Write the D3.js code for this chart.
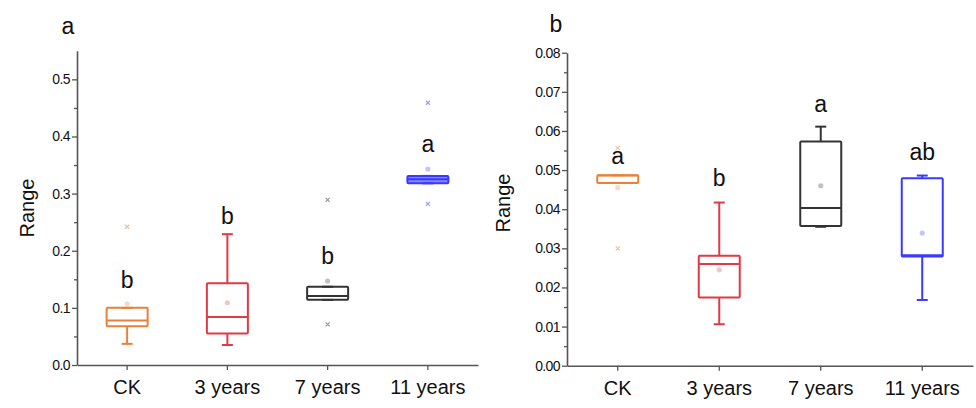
<!DOCTYPE html>
<html lang="en">
<head>
<meta charset="utf-8">
<script src="https://d3js.org/d3.v7.min.js"></script>
<style>
  body { margin: 0; background: #fff; }
  svg text { font-family: "Liberation Sans", Arial, sans-serif; fill: #111; }
</style>
</head>
<body>
<div id="chart"></div>
<script>
// groups on the x axis
const categories = ["CK", "3 years", "7 years", "11 years"];
const colors = ["#e8823a", "#df3a45", "#333333", "#3a3aff"];

// panel a
const aLow = [0.037, 0.035, 0.114, 0.318];
const aQ1 = [0.068, 0.055, 0.114, 0.318];
const aMed = [0.078, 0.084, 0.121, 0.325];
const aQ3 = [0.100, 0.143, 0.137, 0.331];
const aHigh = [0.100, 0.229, 0.137, 0.331];
const aMean = [0.107, 0.109, 0.147, 0.343];
const aOutliers = [[0.242], [], [0.289, 0.071], [0.459, 0.282]];
const aLetters = ["b", "b", "b", "a"];
const aLetterY = [0.149, 0.261, 0.190, 0.387];
const aTicks = [0, 0.1, 0.2, 0.3, 0.4, 0.5];

// panel b
const bLow = [0.0467, 0.0106, 0.0355, 0.0168];
const bQ1 = [0.0467, 0.0174, 0.0357, 0.0279];
const bMed = [0.0486, 0.0260, 0.0403, 0.0282];
const bQ3 = [0.0487, 0.0281, 0.0573, 0.0479];
const bHigh = [0.0487, 0.0417, 0.0611, 0.0486];
const bMean = [0.0455, 0.0245, 0.0460, 0.0339];
const bOutliers = [[0.030, 0.0556], [], [], []];
const bLetters = ["a", "b", "a", "ab"];
const bLetterY = [0.0535, 0.0479, 0.0669, 0.0545];
const bTicks = [0, 0.01, 0.02, 0.03, 0.04, 0.05, 0.06, 0.07, 0.08];

const svg = d3.select("#chart").append("svg")
  .attr("width", 976)
  .attr("height", 408);

function panel(opt) {
  const g = svg.append("g");

  let x = d3.scaleBand().domain(categories).range([opt.x0, opt.x1]);
  let y = d3.scaleLinear().domain([0, opt.ymax]).range([opt.y0, opt.y1]);

  // minor ticks
  g.append("g")
    .attr("transform", "translate(" + opt.x0 + ",0)")
    .call(d3.axisLeft(y).tickValues(opt.minor).tickSize(3).tickFormat(""))
    .call(a => a.select(".domain").remove())
    .call(a => a.selectAll("line").attr("stroke", "#555").attr("stroke-width", 1.3));

  // y axis
  let yAx = g.append("g")
    .attr("transform", "translate(" + opt.x0 + ",0)")
    .call(d3.axisLeft(y).tickValues(opt.ticks).tickSize(5).tickSizeOuter(0).tickPadding(2)
      .tickFormat(opt.fmt));
  yAx.select(".domain").attr("stroke", "#555").attr("stroke-width", 1.6);
  yAx.selectAll(".tick line").attr("stroke", "#555").attr("stroke-width", 1.3);
  yAx.selectAll("text").style("font-size", "14px").style("letter-spacing", "-0.6px").attr("fill", "#333");

  // x axis
  let xAx = g.append("g")
    .attr("transform", "translate(0," + opt.y0 + ")")
    .call(d3.axisBottom(x).tickSize(5).tickSizeOuter(0).tickPadding(10));
  xAx.select(".domain").attr("stroke", "#555").attr("stroke-width", 1.6);
  xAx.selectAll(".tick line").attr("stroke", "#555").attr("stroke-width", 1.3);
  xAx.selectAll("text").style("font-size", "20px").attr("fill", "#222");

  // axis title
  g.append("text")
    .attr("transform", "translate(" + opt.titleX + "," + opt.titleY + ") rotate(-90)")
    .attr("text-anchor", "middle")
    .attr("dominant-baseline", "central")
    .style("font-size", "20px")
    .text("Range");

  // panel letter
  g.append("text")
    .attr("x", opt.labelX).attr("y", opt.labelY)
    .attr("text-anchor", "middle")
    .attr("dominant-baseline", "central")
    .style("font-size", "23px")
    .text(opt.label);

  const bw = 41, cap = 11;

  categories.forEach(function (c, i) {
    let cx = x(c) + x.bandwidth() / 2;
    let col = colors[i];
    let bg = g.append("g").attr("stroke", col).attr("fill", "none").attr("stroke-width", 2);

    // mean (drawn under the box lines)
    g.append("circle")
      .attr("cx", cx).attr("cy", y(opt.mean[i])).attr("r", 2.6)
      .attr("fill", col).attr("opacity", 0.3);

    // whiskers
    bg.append("line").attr("x1", cx).attr("x2", cx).attr("y1", y(opt.high[i])).attr("y2", y(opt.q3[i]));
    bg.append("line").attr("x1", cx).attr("x2", cx).attr("y1", y(opt.q1[i])).attr("y2", y(opt.low[i]));
    bg.append("line").attr("x1", cx - cap / 2).attr("x2", cx + cap / 2).attr("y1", y(opt.high[i])).attr("y2", y(opt.high[i]));
    bg.append("line").attr("x1", cx - cap / 2).attr("x2", cx + cap / 2).attr("y1", y(opt.low[i])).attr("y2", y(opt.low[i]));

    // box + median
    bg.append("rect")
      .attr("x", cx - bw / 2).attr("width", bw)
      .attr("y", y(opt.q3[i])).attr("height", y(opt.q1[i]) - y(opt.q3[i]))
      .attr("rx", 1)
      .attr("fill", c === opt.solid ? col : "none")
      .attr("fill-opacity", 0.6);
    bg.append("line").attr("x1", cx - bw / 2).attr("x2", cx + bw / 2)
      .attr("y1", y(opt.med[i])).attr("y2", y(opt.med[i]));

    // outliers
    opt.outliers[i].forEach(function (v) {
      let oy = y(v);
      g.append("path")
        .attr("d", "M" + (cx - 2) + "," + (oy - 2) + "L" + (cx + 2) + "," + (oy + 2) +
                   "M" + (cx + 2) + "," + (oy - 2) + "L" + (cx - 2) + "," + (oy + 2))
        .attr("stroke", col).attr("stroke-width", 1.2).attr("opacity", 0.5);
    });

    // significance letter
    g.append("text")
      .attr("x", cx).attr("y", y(opt.letterY[i]))
      .attr("text-anchor", "middle")
      .attr("dominant-baseline", "central")
      .style("font-size", "23px")
      .text(opt.letters[i]);
  });
}

panel({
  x0: 77, x1: 478, y0: 365, y1: 50.8, ymax: 0.55,
  ticks: aTicks, minor: d3.range(0.05, 0.55, 0.1), fmt: d3.format(".1f"),
  low: aLow, q1: aQ1, med: aMed, q3: aQ3, high: aHigh, mean: aMean,
  outliers: aOutliers, letters: aLetters, letterY: aLetterY, solid: "11 years",
  titleX: 27, titleY: 208, label: "a", labelX: 68, labelY: 26
});

panel({
  x0: 567, x1: 973, y0: 365.7, y1: 52.7, ymax: 0.08,
  ticks: bTicks, minor: d3.range(0.005, 0.08, 0.01), fmt: d3.format(".2f"),
  low: bLow, q1: bQ1, med: bMed, q3: bQ3, high: bHigh, mean: bMean,
  outliers: bOutliers, letters: bLetters, letterY: bLetterY, solid: null,
  titleX: 503, titleY: 203, label: "b", labelX: 556, labelY: 24
});
</script>
</body>
</html>
